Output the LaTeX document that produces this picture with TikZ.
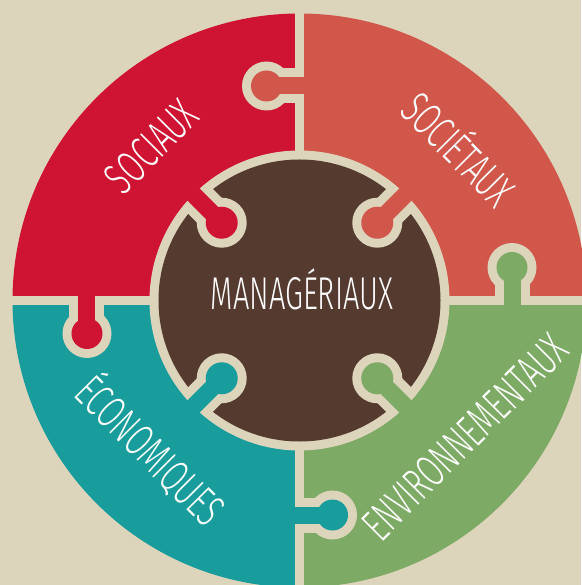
\documentclass[tikz,border=0pt]{standalone}
\usepackage{fontspec}
\newfontfamily\lblfont{Fira Sans}[UprightFont={* Light}]
\usetikzlibrary{positioning}

\definecolor{beige}{HTML}{DDD4BC}
\definecolor{rouge}{HTML}{CE1432}
\definecolor{saumon}{HTML}{D2574B}
\definecolor{sarcelle}{HTML}{189C9C}
\definecolor{vert}{HTML}{7DAA64}
\definecolor{brun}{HTML}{543A2F}

\newcommand{\etroit}[1]{\scalebox{0.63}[1]{#1}}

\begin{document}
\begin{tikzpicture}[x=1pt,y=1pt,
    lbl/.style={text=white,inner sep=0pt,font=\lblfont\fontsize{46}{46}\selectfont,
                text height=31.7pt,text depth=0pt}]

    \fill[beige] (-299.5,-284.5) rectangle (281.5,300.5);
    \useasboundingbox (-299.5,-284.5) rectangle (281.5,300.5);

    \fill[saumon]   (0,0) -- (287,0) arc (0:90:287) -- cycle;
    \fill[rouge]    (0,0) -- (0,287) arc (90:180:287) -- cycle;
    \fill[sarcelle] (0,0) -- (-287,0) arc (180:270:287) -- cycle;
    \fill[vert]     (0,0) -- (0,-287) arc (270:360:287) -- cycle;

    \draw[beige,line width=9pt] (-290,0) -- (290,0) (0,-290) -- (0,290);

    \fill[beige] (-33,214.5) circle (24.5);
    \fill[beige] (-33,197) rectangle (0,232);
    \fill[saumon] (-33,214.5) circle (15.5);
    \fill[saumon] (-33,206) rectangle (8,223);

    \fill[beige] (-212.5,-33) circle (24.5);
    \fill[beige] (-230,-33) rectangle (-195,0);
    \fill[rouge] (-212.5,-33) circle (15.5);
    \fill[rouge] (-221,-33) rectangle (-204,8);

    \fill[beige] (33,-214.5) circle (24.5);
    \fill[beige] (0,-232) rectangle (33,-197);
    \fill[sarcelle] (33,-214.5) circle (15.5);
    \fill[sarcelle] (-8,-223) rectangle (33,-206);

    \fill[beige] (212.5,33) circle (24.5);
    \fill[beige] (195,0) rectangle (230,33);
    \fill[vert] (212.5,33) circle (15.5);
    \fill[vert] (204,-8) rectangle (221,33);

    \fill[beige] (0,0) circle (150);
    \fill[brun] (0,0) circle (141);

    \begin{scope}[rotate=45]
        \fill[beige] (110,0) circle (25);
        \fill[beige] (110,-17.5) rectangle (146,17.5);
        \fill[saumon] (110,0) circle (16);
        \fill[saumon] (110,-8.5) rectangle (158,8.5);
    \end{scope}
    \begin{scope}[rotate=135]
        \fill[beige] (110,0) circle (25);
        \fill[beige] (110,-17.5) rectangle (146,17.5);
        \fill[rouge] (110,0) circle (16);
        \fill[rouge] (110,-8.5) rectangle (158,8.5);
    \end{scope}
    \begin{scope}[rotate=225]
        \fill[beige] (110,0) circle (25);
        \fill[beige] (110,-17.5) rectangle (146,17.5);
        \fill[sarcelle] (110,0) circle (16);
        \fill[sarcelle] (110,-8.5) rectangle (158,8.5);
    \end{scope}
    \begin{scope}[rotate=315]
        \fill[beige] (110,0) circle (25);
        \fill[beige] (110,-17.5) rectangle (146,17.5);
        \fill[vert] (110,0) circle (16);
        \fill[vert] (110,-8.5) rectangle (158,8.5);
    \end{scope}

    \node[lbl] (man) at (2.5,-9) [anchor=base] {\etroit{MANAGÉRIAUX}};
    \node[lbl,rotate=45] (soc) at (-148,154.3) {\etroit{SOCIAUX}};
    \node[lbl,rotate=-45] (socie) at (158.5,150.5) {\etroit{SOCIÉTAUX}};
    \node[lbl,rotate=-45] (eco) at (-149.5,-150.5) {\etroit{ÉCONOMIQUES}};
    \node[lbl,rotate=45] (env) at (165.5,-136.5) {\etroit{ENVIRONNEMENTAUX}};

\end{tikzpicture}
\end{document}
